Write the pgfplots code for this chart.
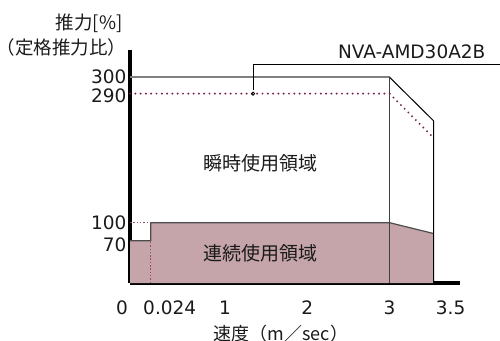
\documentclass[border=0pt]{standalone}
\usepackage{pgfplots}
\pgfplotsset{compat=1.18}
\usepackage{fontspec}
\setmainfont{DejaVu Sans}
\newfontfamily\cjk{Noto Sans CJK JP}
\definecolor{pinkc}{HTML}{C5A5AA}
\definecolor{maroon}{HTML}{7A1F4F}
\definecolor{txt}{HTML}{1A1A1A}
\begin{document}
\begin{tikzpicture}[x=1pt,y=1pt]
\path[use as bounding box] (0,0) rectangle (500,-340);
\begin{axis}[
  at={(130pt,-283pt)}, anchor=south west,
  scale only axis, width=330pt, height=233pt,
  x coord trafo/.code={\pgfmathparse{ifthenelse(#1<0.024, #1*862.5, ifthenelse(#1<1, 20.7+(#1-0.024)*76.13, ifthenelse(#1<3, 95+(#1-1)*82.15, 259.3+(#1-3)*88)))}},
  y coord trafo/.code={\pgfmathparse{ifthenelse(#1<100, #1*0.603, ifthenelse(#1<290, 60.3+(#1-100)*0.6789, 189.3+(#1-290)*1.64))}},
  xmin=0, xmax=3.8, ymin=0, ymax=316.6,
  enlargelimits=false,
  axis lines=left,
  axis line style={-, line width=3.5pt, black},
  major tick length=0pt,
  xtick={0,0.024,1,2,3,3.5},
  xticklabels={{\hspace*{-8pt}\makebox[0pt]{0}\hspace*{8pt}},{\hspace*{19pt}\makebox[0pt]{0.024}\hspace*{-19pt}},1,2,3,{\hspace*{17pt}\makebox[0pt]{3.5}\hspace*{-17pt}}},
  ytick={70,100,290,300},
  yticklabels={{\raisebox{-4pt}[\height][\depth]{70}},100,{\raisebox{-2pt}[\height][\depth]{290}},300},
  /pgf/number format/assume math mode=true,
  tick label style={font=\fontsize{18.5}{20}\selectfont, text=txt},
  xticklabel style={yshift=-14pt},
  clip=false,
]
% continuous region fill
\addplot[fill=pinkc, draw=none] coordinates {(0,70) (0.024,70) (0.024,100) (3,100) (3.5,82)} \closedcycle;
% continuous region outline
\addplot[draw=black!70, line width=1.2pt] coordinates {(0,70) (0.024,70) (0.024,100) (3,100) (3.5,82)};
% instantaneous region outline
\addplot[draw=black!50, line width=1.6pt] coordinates {(0,300) (3,300)};
\addplot[draw=black, line width=1pt] coordinates {(3,300) (3.5,250) (3.5,0)};
\addplot[draw=black!75, line width=1pt] coordinates {(3,300) (3,0)};
% dotted 290 line
\addplot[draw=maroon, line width=2.2pt, line cap=round, dash pattern=on 0pt off 5.3pt] coordinates {(0,290) (3,290) (3.5,225)};
% fine dotted guides
\addplot[draw=maroon!80, line width=0.9pt, dash pattern=on 1.5pt off 1.8pt] coordinates {(0.024,0) (0.024,70)};
\addplot[draw=maroon!80, line width=0.9pt, dash pattern=on 1.5pt off 1.8pt] coordinates {(0,100) (0.024,100)};
% leader
\draw[black, line width=1pt] (axis cs:1.34,292) -- (axis cs:1.34,307.5) -- (axis cs:4.26,307.5);
\addplot[only marks, mark=o, mark size=1.6pt, mark options={black, line width=0.8pt, fill=white}] coordinates {(1.34,290)};
\end{axis}
\node[font=\cjk\fontsize{18.5}{20}\selectfont, text=txt, anchor=east] at (126,-23) {推力[\%]};
\node[font=\cjk\fontsize{18.5}{20}\selectfont, text=txt, anchor=east] at (130,-47) {（定格推力比）};
\node[font=\fontsize{18.5}{20}\selectfont, text=txt] at (411.7,-51.7) {NVA-AMD30A2B};
\node[font=\cjk\fontsize{19}{20}\selectfont, text=txt] at (260,-163) {瞬時使用領域};
\node[font=\cjk\fontsize{19}{20}\selectfont, text=txt] at (260,-253) {連続使用領域};
\node[font=\cjk\fontsize{18}{20}\selectfont, text=txt] at (281,-334) {速度（m／sec）};
\end{tikzpicture}
\end{document}
